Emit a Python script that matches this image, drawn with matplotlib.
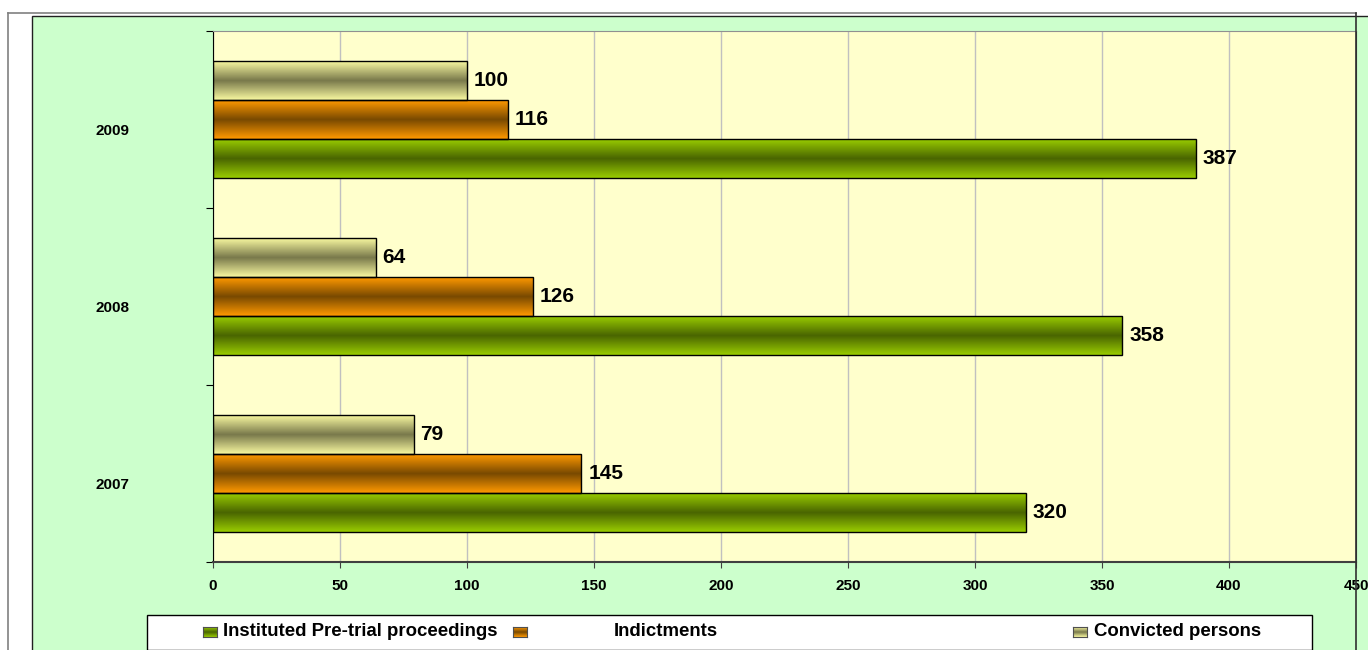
import matplotlib
matplotlib.use("Agg")
import matplotlib.pyplot as plt
import numpy as np
from matplotlib.colors import LinearSegmentedColormap
from matplotlib.patches import Rectangle
from matplotlib.lines import Line2D
from matplotlib.transforms import ScaledTranslation

years = ["2007", "2008", "2009"]
series_names = ["Instituted Pre-trial proceedings", "Indictments", "Convicted persons"]
instituted = [320, 358, 387]
indictments = [145, 126, 116]
convicted = [79, 64, 100]
x_ticks = [0, 50, 100, 150, 200, 250, 300, 350, 400, 450]

# edge colour / centre colour of the striped gradient fill
edge_cols = ["#99CC00", "#FF9900", "#F8F8A0"]
mid_cols = ["#4A6600", "#7A4A00", "#7A7A4C"]

plt.rcParams["font.family"] = ["Liberation Sans", "DejaVu Sans"]
plt.rcParams["font.weight"] = "bold"

fig = plt.figure(figsize=(13.68, 6.5), dpi=100, facecolor="white")
W, H = 1368.0, 650.0

# outer frame and green chart area
fig.patches.append(Rectangle((32 / W, -0.01), 1.0, 1 - 16 / H + 0.01, transform=fig.transFigure,
                             facecolor="#CCFFCC", edgecolor="#202020", lw=1, zorder=-2))
fig.lines.append(Line2D([8 / W, 1356 / W], [1 - 13 / H, 1 - 13 / H], transform=fig.transFigure,
                        color="#808080", lw=1.2, zorder=1))
fig.lines.append(Line2D([8 / W, 8 / W], [0, 1 - 13 / H], transform=fig.transFigure,
                        color="#808080", lw=1.2, zorder=1))
fig.lines.append(Line2D([1356 / W, 1356 / W], [0, 1 - 13 / H], transform=fig.transFigure,
                        color="#303030", lw=1.2, zorder=5))

ax = fig.add_axes([213 / W, 1 - 562 / H, (1356 - 213) / W, (562 - 31) / H])
ax.set_facecolor("#FFFFCC")

y = np.arange(len(years))
h = 0.22
grad = np.concatenate([np.linspace(0, 1, 50), np.linspace(1, 0, 50)]).reshape(-1, 1)

for i, vals in enumerate([instituted, indictments, convicted]):
    cmap = LinearSegmentedColormap.from_list("g%d" % i, [edge_cols[i], mid_cols[i]])
    bars = ax.barh(y + (i - 1) * h, vals, height=h, facecolor="none", edgecolor="black", lw=1, zorder=3)
    for b in bars:
        bx, by, bw, bh = b.get_x(), b.get_y(), b.get_width(), b.get_height()
        im = ax.imshow(grad, extent=[bx, bx + bw, by, by + bh], aspect="auto", cmap=cmap,
                       vmin=0, vmax=1, zorder=2, interpolation="bilinear")
        im.set_clip_path(b)
        ax.annotate(str(bw), (bx + bw, by + bh / 2), xytext=(5, 0), textcoords="offset points",
                    va="center", ha="left", fontsize=15, fontweight="bold", zorder=4)

ax.set_xlim(0, 450)
ax.set_ylim(-0.5, 2.5)
ax.set_xticks(x_ticks)
ax.set_xticklabels([str(t) for t in x_ticks], fontsize=11, fontweight="bold")
ax.tick_params(axis="x", direction="out", length=4, pad=8, color="#404040")
ax.set_yticks([-0.5, 0.5, 1.5, 2.5])
ax.set_yticklabels([])
ax.set_yticks(y, minor=True)
ax.set_yticklabels(years, minor=True, fontsize=11, fontweight="bold")
ax.tick_params(axis="y", which="major", direction="out", length=5)
ax.tick_params(axis="y", which="minor", length=0, pad=60)
# Excel puts the category labels a little below the group centre
for lab in ax.get_yticklabels(minor=True):
    lab.set_transform(lab.get_transform() + ScaledTranslation(0, -0.1, fig.dpi_scale_trans))

ax.grid(axis="x", color="#C0C0C0", lw=1, zorder=1)
ax.set_axisbelow(True)
ax.spines["left"].set_color("black")
ax.spines["bottom"].set_color("#404040")
ax.spines["bottom"].set_linewidth(1.5)
ax.spines["top"].set_color("#909090")
ax.spines["right"].set_color("#303030")

# legend box (Excel-style spacing)
fig.patches.append(Rectangle((147 / W, 0.0), (1312 - 147) / W, (650 - 615) / H, transform=fig.transFigure,
                             facecolor="white", edgecolor="black", lw=1, zorder=-1))
marker_x = [203, 513, 1073]
text_x = [223, 614, 1094]
for i in range(3):
    mk = fig.add_axes([marker_x[i] / W, 1 - 637 / H, 14 / W, 10 / H])
    cmap = LinearSegmentedColormap.from_list("l%d" % i, [edge_cols[i], mid_cols[i]])
    mk.imshow(grad, aspect="auto", cmap=cmap, vmin=0, vmax=1, interpolation="bilinear")
    mk.set_xticks([])
    mk.set_yticks([])
    for s in mk.spines.values():
        s.set_color("#505050")
        s.set_linewidth(0.8)
    fig.text(text_x[i] / W, 1 - 632 / H, series_names[i], fontsize=13.4, fontweight="bold",
             va="center", ha="left", zorder=3)

fig.savefig("out.png", dpi=100, facecolor="white")
